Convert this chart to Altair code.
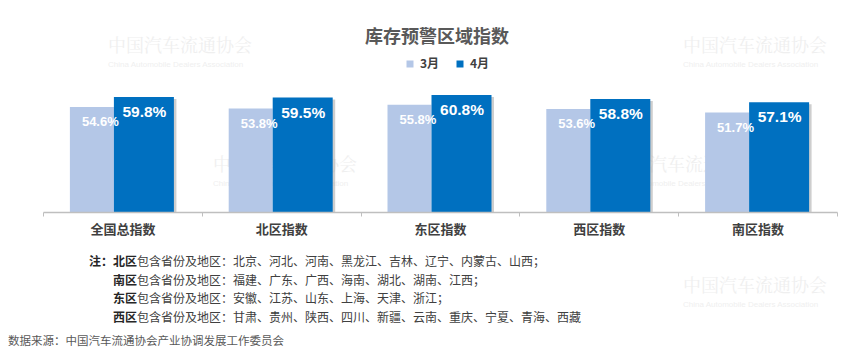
import altair as alt
import pandas as pd

categories = ["全国总指数", "北区指数", "东区指数", "西区指数", "南区指数"]
months = ["3月", "4月"]
mar_values = [54.6, 53.8, 55.8, 53.6, 51.7]
apr_values = [59.8, 59.5, 60.8, 58.8, 57.1]
month_colors = ["#b4c7e7", "#0070c0"]

title_text = "库存预警区域指数"
note_prefix = "注："
note_heads = ["北区", "南区", "东区", "西区"]
note_bodies = [
    "包含省份及地区：北京、河北、河南、黑龙江、吉林、辽宁、内蒙古、山西；",
    "包含省份及地区：福建、广东、广西、海南、湖北、湖南、江西；",
    "包含省份及地区：安徽、江苏、山东、上海、天津、浙江；",
    "包含省份及地区：甘肃、贵州、陕西、四川、新疆、云南、重庆、宁夏、青海、西藏",
]
source_text = "数据来源：中国汽车流通协会产业协调发展工作委员会"
wm_cn = "中国汽车流通协会"
wm_en = "China Automobile Dealers Association"

CJK = "Noto Sans CJK SC"
NARROW = "Liberation Sans Narrow, Liberation Sans, Arial, sans-serif"
OX = 43  # left padding (view origin)

df = pd.DataFrame({
    "category": categories * 2,
    "month": [months[0]] * len(categories) + [months[1]] * len(categories),
    "value": mar_values + apr_values,
})
df["label"] = df["value"].map(lambda v: f"{v:.1f}%")

x_enc = alt.X(
    "category:N", sort=categories,
    scale=alt.Scale(paddingInner=0, paddingOuter=0),
    axis=alt.Axis(
        title=None, labelAngle=0, labelFont=CJK, labelFontSize=13,
        labelFontWeight="bold", labelColor="#404040", labelPadding=7,
        domainColor="#bfbfbf", domainWidth=1.5, tickColor="#bfbfbf",
        tickSize=4, tickBand="extent", grid=False, zindex=1,
    ),
)
y_enc = alt.Y("value:Q", scale=alt.Scale(domain=[0, 110.24]), axis=None)
color_enc = alt.Color(
    "month:N",
    scale=alt.Scale(domain=months, range=month_colors),
    legend=alt.Legend(
        title=None, orient="none", direction="horizontal",
        legendX=361, legendY=58, symbolType="square", symbolSize=49,
        symbolStrokeWidth=0, labelFont=CJK, labelFontSize=12,
        labelFontWeight="bold", labelColor="#404040", labelOffset=4,
        columnPadding=14, padding=0,
    ),
)

base = alt.Chart(df)

shadow = base.transform_filter(alt.datum.month == months[1]).mark_bar(
    width=60, xOffset=24, yOffset=2, y2Offset=0, color="#a6a6a6", opacity=0.55
).encode(x=x_enc, y=y_enc, y2=alt.datum(0))

bars_mar = base.transform_filter(alt.datum.month == months[0]).mark_bar(
    width=44, xOffset=-30.5
).encode(x=x_enc, y=y_enc, color=color_enc)

bars_apr = base.transform_filter(alt.datum.month == months[1]).mark_bar(
    width=60, xOffset=21.5
).encode(x=x_enc, y=y_enc, color=color_enc)

labels_mar = base.transform_filter(alt.datum.month == months[0]).mark_text(
    align="left", baseline="middle", dx=-40.5, dy=15, font=NARROW,
    fontSize=13, fontWeight="bold", color="white"
).encode(x=x_enc, y=y_enc, text="label:N")

labels_apr = base.transform_filter(alt.datum.month == months[1]).mark_text(
    align="center", baseline="middle", dx=22, dy=15, font=NARROW,
    fontSize=15.5, fontWeight="bold", color="white"
).encode(x=x_enc, y=y_enc, text="label:N")


def txt(text, x, y, size=12, weight="normal", color="#404040", align="left",
        font=CJK, baseline="middle"):
    return alt.Chart(pd.DataFrame({"t": [text]})).mark_text(
        align=align, baseline=baseline, font=font, fontSize=size,
        fontWeight=weight, color=color
    ).encode(x=alt.value(x - OX), y=alt.value(y), text="t:N")


# faint watermarks
wm_layers = []
for (wx, wy) in [(108, 47), (683, 47), (213, 166), (613, 166), (683, 287)]:
    wm_layers.append(txt(wm_cn, wx, wy, size=18, color="#efefef", font="Noto Serif CJK SC, " + CJK))
    wm_layers.append(txt(wm_en, wx, wy + 18, size=8, color="#efefef",
                         font="Liberation Sans, sans-serif"))

text_layers = [txt(title_text, 437, 38, size=18, weight="bold", color="#595959", align="center")]
text_layers.append(txt(note_prefix, 89, 262, weight="bold", color="#262626"))
for i, (h, b) in enumerate(zip(note_heads, note_bodies)):
    yy = 262 + i * 18.5
    text_layers.append(txt(h, 113, yy, weight="bold", color="#262626"))
    text_layers.append(txt(b, 137, yy, color="#404040"))
text_layers.append(txt(source_text, 8, 342, size=11.5, color="#595959"))

chart = alt.layer(
    *wm_layers, shadow, bars_mar, bars_apr, labels_mar, labels_apr, *text_layers
).properties(
    width=865 - OX - 28, height=212,
    padding={"left": OX, "right": 28, "top": 0, "bottom": 142},
    autosize=alt.AutoSizeParams(type="none"),
    background="white",
).configure_view(stroke=None)

chart.save("out.html", embed_options={"renderer": "svg", "actions": False})
